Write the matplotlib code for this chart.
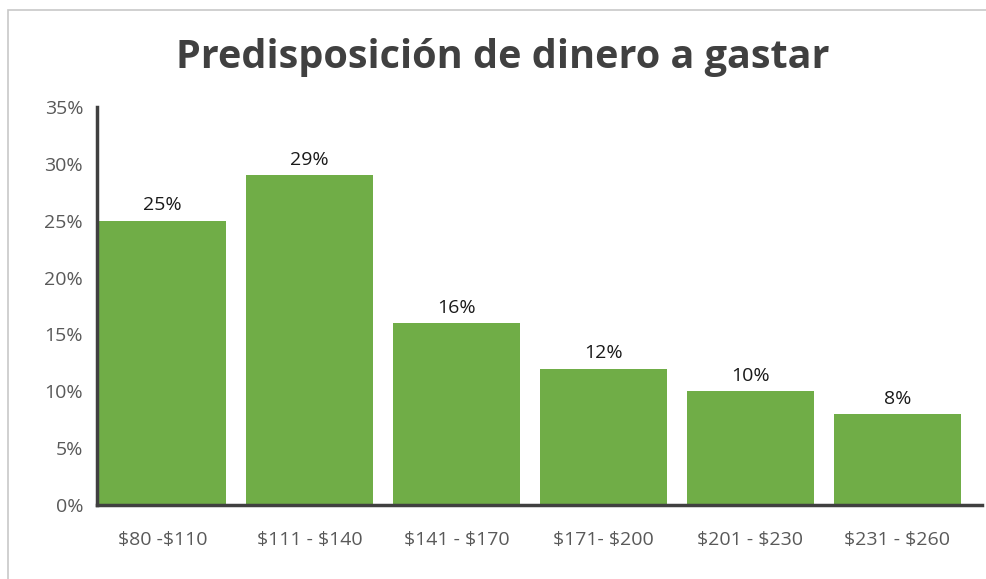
import matplotlib
matplotlib.use("Agg")
import matplotlib.pyplot as plt
from matplotlib.patches import Rectangle
from matplotlib.ticker import MultipleLocator, FuncFormatter

categories = ["$80 -$110", "$111 - $140", "$141 - $170", "$171- $200", "$201 - $230", "$231 - $260"]
values = [25, 29, 16, 12, 10, 8]
labels = ["25%", "29%", "16%", "12%", "10%", "8%"]

plt.rcParams['font.family'] = ['Open Sans', 'DejaVu Sans']

W, H = 987, 579
fig = plt.figure(figsize=(W/100, H/100), dpi=100)
fig.patch.set_facecolor('white')

# outer border (chart frame, cropped at right/bottom)
fig.patches.append(Rectangle((8/W, -0.1), 1.2, (H-10)/H + 0.1, transform=fig.transFigure,
                             fill=False, edgecolor='#c8c8c8', linewidth=1.2))

ax = fig.add_axes([97/W, 1-505/H, (982-97)/W, (505-107)/H])
x = list(range(len(categories)))
ax.bar(x, values, width=0.87, color='#70AD47', zorder=2)
ax.set_ylim(0, 35)
ax.set_xlim(-0.446, 5.575)
ax.yaxis.set_major_locator(MultipleLocator(5))
ax.yaxis.set_major_formatter(FuncFormatter(lambda v, p: f"{int(v)}%"))
ax.set_xticks(x)
ax.set_xticklabels([c.replace('$', r'\$') for c in categories])
for s in ['top', 'right']:
    ax.spines[s].set_visible(False)
for s in ['left', 'bottom']:
    ax.spines[s].set_color('#404040')
    ax.spines[s].set_linewidth(2.5)
    ax.spines[s].set_zorder(3)
ax.tick_params(axis='both', length=0, labelsize=14, colors='#595959')
ax.tick_params(axis='y', pad=10)
ax.tick_params(axis='x', pad=19)

for xi, v, lab in zip(x, values, labels):
    ax.text(xi, v + 0.55, lab, ha='center', va='bottom', fontsize=14, color='#1a1a1a')

fig.text(503/W, 1-68/H, "Predisposición de dinero a gastar", ha='center', va='baseline',
         fontsize=28.5, fontweight='bold', color='#404040')

fig.savefig("out.png", dpi=100)
